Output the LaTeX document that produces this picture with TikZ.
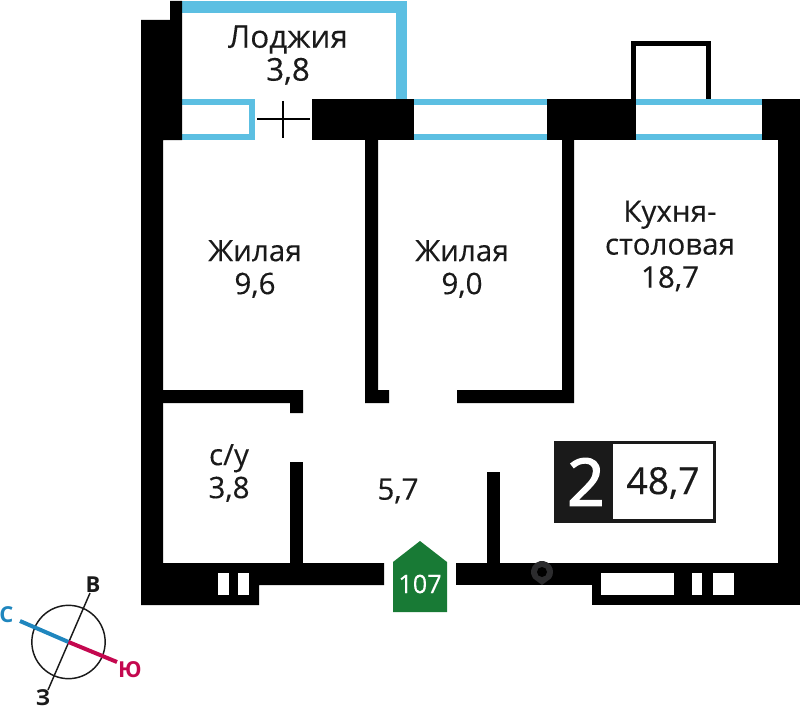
\documentclass[tikz,border=0pt]{standalone}
\usepackage{fontspec}
\setmainfont{Open Sans}
\newfontfamily\roomfont{Open Sans}[FakeBold=0.25]
\newfontfamily\tagfont{Open Sans}[FakeBold=2.5]
\definecolor{glassblue}{HTML}{5CBFE2}
\definecolor{tagblack}{HTML}{1A1A1A}
\definecolor{doorgreen}{HTML}{187A35}
\definecolor{northblue}{HTML}{1F86BE}
\definecolor{southred}{HTML}{C4084F}
\definecolor{pingrey}{HTML}{2C2C2E}
\tikzset{
    wall/.style={fill=black, draw=none},
    glass/.style={fill=glassblue, draw=none},
    hole/.style={fill=white, draw=none},
    room/.style={inner sep=0mm, align=center, text=tagblack, font=\roomfont\fontsize{22.2}{24.7}\selectfont},
    side/.style={inner sep=0mm, font=\fontsize{16.5}{18}\selectfont\bfseries}
}

\begin{document}
\begin{tikzpicture}[x=0.75pt, y=-0.75pt]
    \useasboundingbox (0, 0) rectangle (800, 710);

    % loggia and window frames
    \fill[glass] (182, 1) rectangle (407, 13);
    \fill[glass] (396, 1) rectangle (407, 99);
    \fill[glass] (182, 99) rectangle (255, 140);
    \fill[hole] (182, 105) rectangle (249, 134);
    \fill[glass] (414, 99) rectangle (547, 140);
    \fill[hole] (414, 105) rectangle (547, 134);
    \fill[glass] (636, 99) rectangle (762, 140);
    \fill[hole] (636, 105) rectangle (762, 134);

    % outer walls
    \fill[wall] (170, 1) -- (182, 1) -- (182, 140) -- (163, 140) -- (163, 563) -- (259, 563)
        -- (384, 563) -- (384, 585) -- (259, 585) -- (259, 605) -- (141, 605) -- (141, 20) -- (170, 20) -- cycle;
    \fill[wall] (312, 99) rectangle (414, 140);
    \fill[wall] (547, 99) rectangle (636, 140);
    \fill[wall] (762, 99) rectangle (800, 140);
    \fill[wall] (778, 140) rectangle (800, 605);
    \fill[wall] (456, 563) rectangle (800, 585);
    \fill[wall] (592, 563) rectangle (800, 605);

    % inner walls
    \fill[wall] (365, 140) -- (378, 140) -- (378, 390) -- (389, 390) -- (389, 403) -- (365, 403) -- cycle;
    \fill[wall] (562, 140) -- (574, 140) -- (574, 403) -- (457, 403) -- (457, 390) -- (562, 390) -- cycle;
    \fill[wall] (163, 390) -- (303, 390) -- (303, 413) -- (290, 413) -- (290, 403) -- (163, 403) -- cycle;
    \fill[wall] (290, 462) rectangle (303, 563);
    \fill[wall] (487, 472) rectangle (500, 563);

    % bottom windows
    \fill[hole] (218, 573) rectangle (229, 595);
    \fill[hole] (238, 573) rectangle (249, 595);
    \fill[hole] (601, 573) rectangle (674, 595);
    \fill[hole] (692, 573) rectangle (702, 595);
    \fill[hole] (713, 573) rectangle (734, 595);

    % map pin on the wall
    \fill[pingrey] (542, 585) -- (533, 578.3) arc[start angle=145, end angle=395, radius=11] -- cycle;
    \fill[wall] (542, 572) circle[radius=5];

    % balcony door and hood
    \draw[line width=1.5pt] (257, 119) -- (310, 119);
    \draw[line width=1.5pt] (283, 101) -- (283, 138);
    \draw[line width=3.75pt, line join=miter] (633.5, 99) -- (633.5, 43.5) -- (708.5, 43.5) -- (708.5, 99);

    % rooms
    \node (loggia) at (288, 55) [room, font=\roomfont\fontsize{23.6}{24.7}\selectfont] {Лоджия\\3,8};
    \node (roomA) at (255, 269) [room] {Жилая\\9,6};
    \node (roomB) at (462, 269) [room] {Жилая\\9,0};
    \node (kitchen) at (670, 246) [room] {Кухня-\\столовая\\18,7};
    \node (bath) at (229, 473) [room] {с/у\\3,8};
    \node (hall) at (398, 491) [room] {5,7};

    % area tag
    \fill[tagblack] (554, 441) rectangle (716, 523);
    \fill[hole] (613, 444) rectangle (713, 519);
    \node (rooms) at (586, 482) [inner sep=0mm, text=white, font=\tagfont\fontsize{49}{49}\selectfont] {2};
    \node (area) at (663, 483) [room, font=\roomfont\fontsize{28}{28}\selectfont] {48,7};

    % entrance
    \fill[doorgreen] (393, 562) -- (420, 541) -- (447, 562) -- (447, 612) -- (393, 612) -- cycle;
    \node (flat) at (420, 584) [inner sep=0mm, text=white, font=\roomfont\fontsize{19}{19}\selectfont] {107};

    % compass
    \node (dial) at (68.5, 642) [circle, draw=tagblack, line width=1.1pt, inner sep=0mm, minimum size=55pt] {};
    \coordinate (east) at (90, 593);
    \coordinate (west) at (48, 690);
    \coordinate (north) at (20, 621);
    \coordinate (south) at (117, 662);
    \coordinate (mid) at (68.5, 642);
    \draw[tagblack, line width=1.1pt] (east) -- (west);
    \draw[northblue, line width=3pt] (north) -- (mid);
    \draw[southred, line width=3pt] (mid) -- (south);
    \node (labN) at (6.5, 615) [side, text=northblue] {С};
    \node (labE) at (93, 585) [side, text=tagblack] {В};
    \node (labS) at (130, 670) [side, text=southred] {Ю};
    \node (labW) at (43, 698) [side, text=tagblack] {З};
\end{tikzpicture}
\end{document}
